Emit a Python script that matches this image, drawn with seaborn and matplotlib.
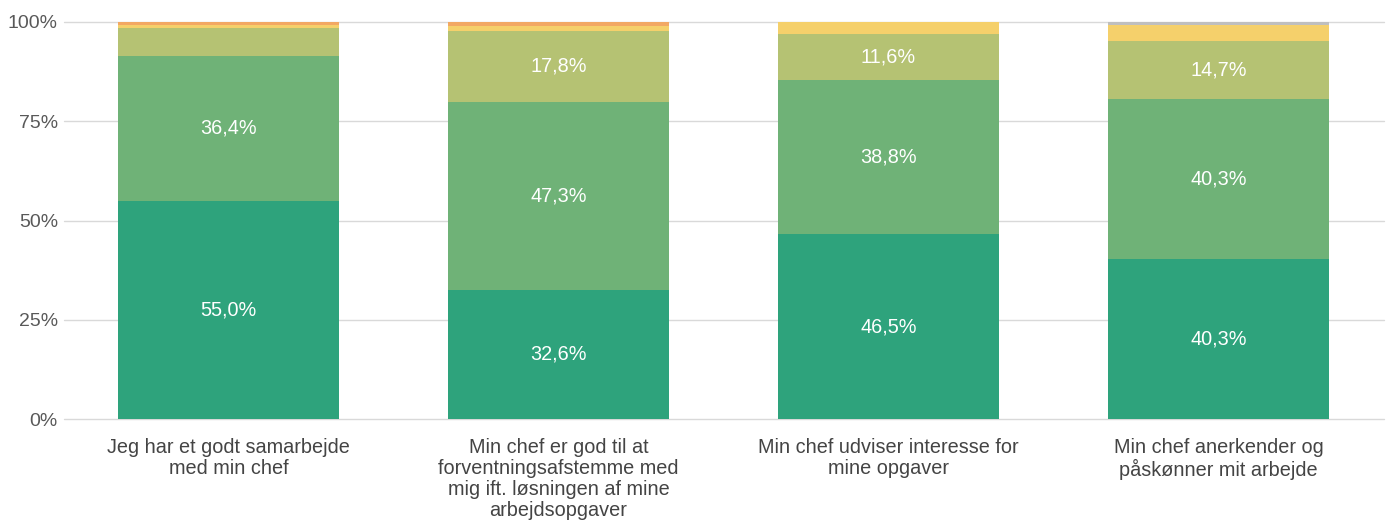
import numpy as np
import pandas as pd
import matplotlib
matplotlib.use("Agg")
import matplotlib.pyplot as plt
import seaborn as sns

categories = [
    "Jeg har et godt samarbejde\nmed min chef",
    "Min chef er god til at\nforventningsafstemme med\nmig ift. løsningen af mine\narbejdsopgaver",
    "Min chef udviser interesse for\nmine opgaver",
    "Min chef anerkender og\npåskønner mit arbejde",
]
s1 = [55.0, 32.6, 46.5, 40.3]   # dark green
s2 = [36.4, 47.3, 38.8, 40.3]   # medium green
s3 = [7.0, 17.8, 11.6, 14.7]    # olive
s4 = [0.8, 1.4, 3.1, 3.9]       # yellow
s5 = [0.8, 0.9, 0.0, 0.0]       # orange
s6 = [0.0, 0.0, 0.0, 0.8]       # gray
series = [s1, s2, s3, s4, s5, s6]
colors = ["#2ea37c", "#6fb277", "#b5c273", "#f5d06b", "#f2a864", "#bfbfbf"]
label_min = 10.0

sns.set_theme(style="white")
plt.rcParams["font.family"] = ["Liberation Sans", "DejaVu Sans"]

fig = plt.figure(figsize=(13.91, 5.28), dpi=100)
ax = fig.add_axes([63.5 / 1391, 1 - 419 / 528, 1320 / 1391, 397 / 528])

cum = np.cumsum(np.array(series), axis=0)
for i in range(len(series) - 1, -1, -1):
    df = pd.DataFrame({"cat": categories, "val": cum[i]})
    sns.barplot(data=df, x="cat", y="val", color=colors[i], width=0.67,
                saturation=1, ax=ax, zorder=2, linewidth=0)

for i, s in enumerate(series):
    bottoms = cum[i] - np.array(s)
    for j, v in enumerate(s):
        if v < label_min:
            continue
        ax.text(j, bottoms[j] + v / 2, f"{v:.1f}".replace(".", ",") + "%",
                ha="center", va="center", color="white", fontsize=14.3, zorder=3)

ax.set_xlim(-0.5, 3.5)
ax.set_ylim(0, 100)
ax.set_yticks([0, 25, 50, 75, 100])
ax.set_yticklabels(["0%", "25%", "50%", "75%", "100%"])
ax.yaxis.grid(True, color="#d9d9d9", linewidth=1)
for gl in ax.get_ygridlines():
    gl.set_clip_on(False)
ax.set_axisbelow(True)
for sp in ax.spines.values():
    sp.set_visible(False)
ax.tick_params(axis="y", length=0, pad=4, labelsize=14, labelcolor="#595959")
ax.tick_params(axis="x", length=0, pad=13.5, labelsize=14.3, labelcolor="#444444")
for lbl in ax.get_xticklabels():
    lbl.set_linespacing(1.15)
ax.set_xlabel("")
ax.set_ylabel("")

fig.savefig("out.png", dpi=100)
